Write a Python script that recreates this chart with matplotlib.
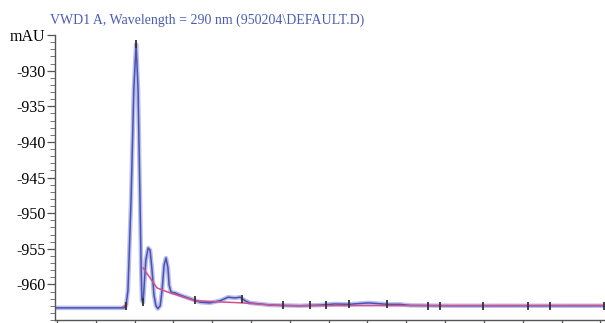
import matplotlib
matplotlib.use("Agg")
import matplotlib.pyplot as plt
import numpy as np

# ---- data (time in min, signal in mAU) ----
signal_t = [-0.05, 1.73, 1.78, 1.83, 1.91, 1.98, 2.04, 2.09, 2.14, 2.17, 2.19, 2.22,
            2.24, 2.29, 2.35, 2.40, 2.45, 2.50, 2.55, 2.60, 2.66, 2.71, 2.76, 2.81,
            2.86, 2.89, 2.94, 3.04, 3.17, 3.43, 3.69, 3.94, 4.20, 4.41, 4.59, 4.72,
            4.85, 4.97, 5.49, 6.26, 6.78, 7.16, 7.53, 8.02, 8.51, 8.84, 9.10, 10.13,
            11.42, 14.12]
signal_y = [-963.3, -963.3, -963.0, -960.8, -948.1, -932.7, -926.3, -932.7, -948.1,
            -958.0, -962.2, -962.5, -960.8, -956.6, -954.9, -955.2, -958.0, -961.5,
            -963.0, -963.4, -963.0, -960.8, -957.3, -956.3, -957.7, -960.1, -961.1,
            -961.2, -961.5, -962.0, -962.5, -962.6, -962.3, -961.8, -961.9, -961.8,
            -962.3, -962.6, -962.9, -963.0, -962.9, -962.75, -962.8, -962.6, -962.8,
            -962.8, -962.95, -963.0, -963.0, -963.0]

base_t = [2.22, 2.58, 2.84, 3.56, 4.77, 5.82, 14.12]
base_y = [-957.7, -960.5, -961.05, -962.3, -962.6, -963.0, -962.95]
base0_t = [1.70, 1.80]
base0_y = [-963.15, -962.75]

mark_t = [1.78, 2.04, 2.22, 3.56, 4.77, 5.82, 6.52, 6.93, 7.53, 8.51, 9.56, 9.87,
          10.98, 12.14, 12.71, 14.10]

yticks_major = [-960, -955, -950, -945, -940, -935, -930, -925]
ytick_labels = ["-960", "-955", "-950", "-945", "-940", "-935", "-930", "mAU"]
title = "VWD1 A, Wavelength = 290 nm (950204\\DEFAULT.D)"

# ---- figure ----
W, H = 605, 323
fig = plt.figure(figsize=(W / 100, H / 100), dpi=100)
ax = fig.add_axes([55 / W, 3 / H, (W - 55) / W, (320 - 35) / H])

ax.plot(signal_t, signal_y, color="#aab0e6", lw=3.2, alpha=0.8, solid_capstyle="round")
ax.plot(signal_t, signal_y, color="#4a53b3", lw=1.1)
ax.plot(base_t, base_y, color="#d2508c", lw=1.1)
ax.plot(base0_t, base0_y, color="#d2508c", lw=1.1)
mark_y = np.interp(mark_t, signal_t, signal_y)
ax.plot(mark_t, mark_y, ls="none", marker="|", ms=6, mew=1.3, color="#333333")

ax.set_xlim(-0.05, 14.12)
ax.set_ylim(-965, -925)
ax.set_yticks(yticks_major)
ax.set_yticklabels(ytick_labels)
ax.set_yticks(np.arange(-965, -924, 1), minor=True)
ax.set_xticks(np.arange(0, 15, 1))
ax.set_xticklabels([])

for s in ["top", "right"]:
    ax.spines[s].set_visible(False)
for s in ["left", "bottom"]:
    ax.spines[s].set_color("#555555")
    ax.spines[s].set_linewidth(1.0)

ax.tick_params(axis="y", which="major", length=6, width=0.9, color="#555555",
               labelsize=11.5, pad=1)
ax.tick_params(axis="y", which="minor", length=3.5, width=0.7, color="#777777")
ax.tick_params(axis="x", which="major", length=4, width=0.9, color="#555555")
for lab in ax.get_yticklabels():
    lab.set_family("Liberation Serif")

fig.text(50 / W, 1 - 20 / H, title, color="#4b5cb4", fontsize=10.0,
         family="Liberation Serif", va="center", ha="left")

fig.savefig("out.png", dpi=100)
